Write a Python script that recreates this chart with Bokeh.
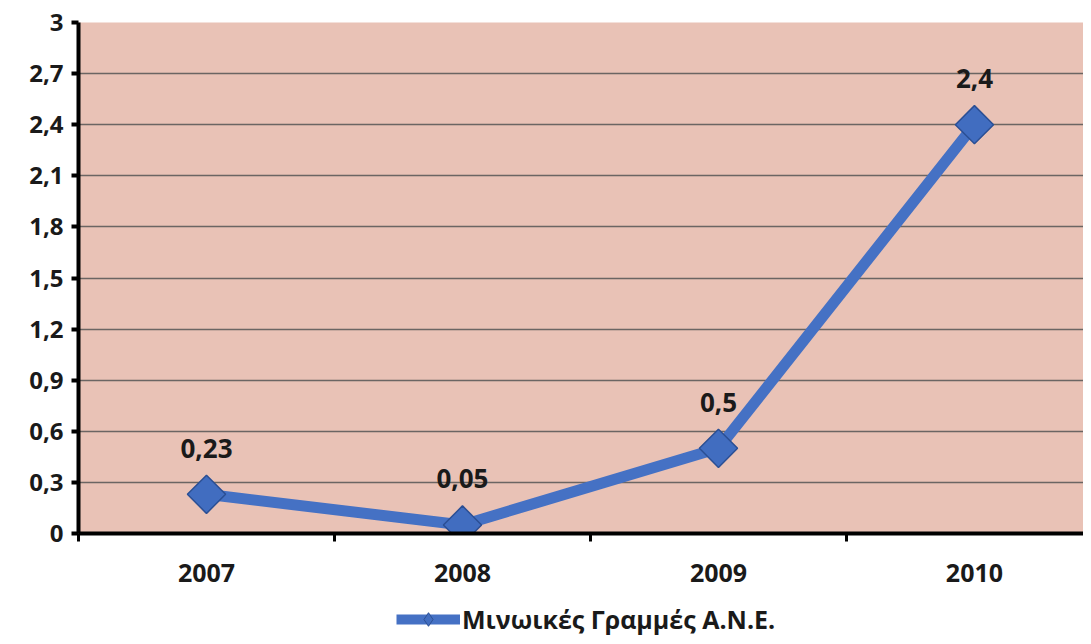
import math
from bokeh.plotting import figure
from bokeh.layouts import column
from bokeh.models import Range1d, FixedTicker, Legend, LegendItem, ColumnDataSource
from bokeh.core.properties import value
from bokeh.embed import file_html
from bokeh.resources import INLINE

years = ["2007", "2008", "2009", "2010"]
values = [0.23, 0.05, 0.5, 2.4]
value_labels = ["0,23", "0,05", "0,5", "2,4"]
y_ticks = [0, 0.3, 0.6, 0.9, 1.2, 1.5, 1.8, 2.1, 2.4, 2.7, 3.0]
y_tick_labels = ["0", "0,3", "0,6", "0,9", "1,2", "1,5", "1,8", "2,1", "2,4", "2,7", "3"]
series_name = "Μινωικές Γραμμές Α.Ν.Ε."

xs = list(range(len(years)))
src = ColumnDataSource(dict(x=xs, y=values, lab=value_labels))

FONT = "Open Sans"
LINE_COLOR = "#4571C4"
MARK_FILL = "#416DC0"
MARK_LINE = "#2B4F94"
TXT = "#1a1a1a"

p = figure(width=1083, height=589, output_backend="svg", toolbar_location=None,
           x_range=Range1d(-0.5, 3.426), y_range=Range1d(0, 3),
           min_border_left=78, min_border_right=0, min_border_top=22, min_border_bottom=56)

p.background_fill_color = "#E9C2B6"
p.border_fill_color = "white"
p.outline_line_color = None

# grid
p.xgrid.grid_line_color = None
p.ygrid.ticker = FixedTicker(ticks=y_ticks)
p.ygrid.grid_line_color = "#555555"
p.ygrid.grid_line_width = 1.5
p.ygrid.grid_line_alpha = 0.85

# y axis
p.yaxis.ticker = FixedTicker(ticks=y_ticks)
p.yaxis.major_label_overrides = {t: l for t, l in zip(y_ticks, y_tick_labels)}
p.yaxis.axis_line_width = 4
p.yaxis.axis_line_color = "black"
p.yaxis.major_tick_line_width = 4
p.yaxis.major_tick_line_color = "black"
p.yaxis.major_tick_out = 7
p.yaxis.major_tick_in = 0
p.yaxis.minor_tick_line_color = None
p.yaxis.major_label_standoff = 8
p.yaxis.major_label_text_font = FONT
p.yaxis.major_label_text_font_style = "bold"
p.yaxis.major_label_text_font_size = "24px"
p.yaxis.major_label_text_color = TXT

# x axis
p.xaxis.ticker = FixedTicker(ticks=xs, minor_ticks=[-0.5, 0.5, 1.5, 2.5, 3.5])
p.xaxis.major_label_overrides = {i: y for i, y in enumerate(years)}
p.xaxis.axis_line_width = 4
p.xaxis.axis_line_color = "black"
p.xaxis.major_tick_out = 0
p.xaxis.major_tick_in = 0
p.xaxis.major_tick_line_color = None
p.xaxis.minor_tick_out = 8
p.xaxis.minor_tick_in = 0
p.xaxis.minor_tick_line_width = 3
p.xaxis.minor_tick_line_color = "black"
p.xaxis.major_label_standoff = 22
p.xaxis.major_label_text_font = FONT
p.xaxis.major_label_text_font_style = "bold"
p.xaxis.major_label_text_font_size = "25px"
p.xaxis.major_label_text_color = TXT

p.line("x", "y", source=src, line_color=LINE_COLOR, line_width=11)
p.scatter("x", "y", source=src, marker="square", angle=math.pi / 4, size=27,
          fill_color=MARK_FILL, line_color=MARK_LINE, line_width=1.5)

p.text("x", "y", text="lab", source=src, y_offset=-46,
       text_align="center", text_baseline="middle",
       text_font=value(FONT), text_font_style="bold", text_font_size="26px",
       text_color=TXT)

# legend strip below the chart (dummy renderers sit outside its visible range)
leg = figure(width=1083, height=47, output_backend="svg", toolbar_location=None,
             x_range=Range1d(0, 1), y_range=Range1d(0, 1),
             min_border=0, x_axis_type=None, y_axis_type=None)
leg.outline_line_color = None
leg.grid.grid_line_color = None
leg.background_fill_color = "white"
leg.border_fill_color = "white"
dummy = ColumnDataSource(dict(x=[-10, -11], y=[-10, -11]))
lr = leg.line("x", "y", source=dummy, line_color=LINE_COLOR, line_width=10)
mr = leg.scatter("x", "y", source=dummy, marker="diamond", size=20,
                 fill_color=MARK_FILL, line_color=MARK_LINE, line_width=1)
legend = Legend(items=[LegendItem(label=series_name, renderers=[lr, mr], index=0)],
                location=(318, 0), orientation="horizontal",
                padding=0, spacing=0, margin=0, glyph_width=64, glyph_height=34,
                label_standoff=2, background_fill_alpha=0, border_line_color=None,
                label_text_font=FONT, label_text_font_style="bold",
                label_text_font_size="25px", label_text_color=TXT)
leg.add_layout(legend, "center")

layout = column(p, leg, spacing=0)
open("out.html", "w").write(file_html(layout, INLINE))
